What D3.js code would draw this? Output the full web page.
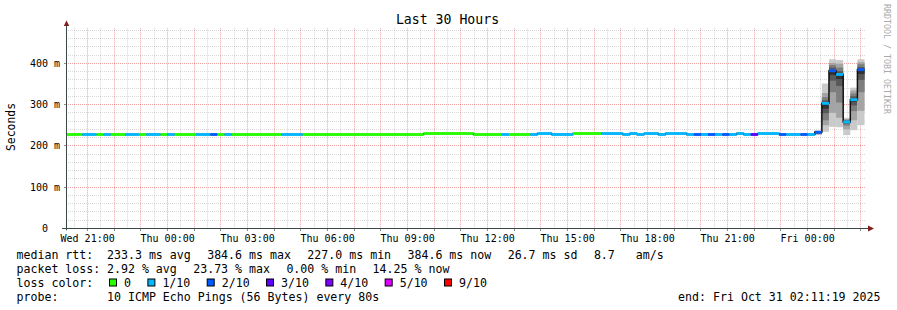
<!DOCTYPE html>
<html>
<head>
<meta charset="utf-8">
<script src="https://cdn.jsdelivr.net/npm/d3@7"></script>
<style>
body { margin: 0; background: #fff; }
text { font-family: "DejaVu Sans Mono", monospace; white-space: pre; }
</style>
</head>
<body>
<div id="chart"></div>
<script>
// runs of the median rtt: start time, median (ms), lost pings out of 10
const runStart = [
  "2025-10-29 20:00", "2025-10-29 20:48", "2025-10-29 21:20", "2025-10-29 21:36", "2025-10-29 21:52",
  "2025-10-29 22:24", "2025-10-29 22:56", "2025-10-29 23:12", "2025-10-29 23:44",
  "2025-10-30 00:00", "2025-10-30 00:16", "2025-10-30 01:04", "2025-10-30 01:36", "2025-10-30 01:52",
  "2025-10-30 02:08", "2025-10-30 02:24", "2025-10-30 04:16", "2025-10-30 05:04", "2025-10-30 09:36",
  "2025-10-30 11:28", "2025-10-30 12:32", "2025-10-30 12:48", "2025-10-30 13:36", "2025-10-30 13:52",
  "2025-10-30 14:24", "2025-10-30 15:12", "2025-10-30 16:16", "2025-10-30 17:04", "2025-10-30 17:20",
  "2025-10-30 17:36", "2025-10-30 17:52", "2025-10-30 18:24", "2025-10-30 18:40", "2025-10-30 19:28",
  "2025-10-30 19:44", "2025-10-30 20:00", "2025-10-30 20:16", "2025-10-30 20:32", "2025-10-30 20:48",
  "2025-10-30 21:04", "2025-10-30 21:20", "2025-10-30 21:36", "2025-10-30 21:52", "2025-10-30 22:08",
  "2025-10-30 22:56", "2025-10-30 23:12", "2025-10-30 23:44",
  "2025-10-31 00:00", "2025-10-31 00:16", "2025-10-31 00:32", "2025-10-31 00:48", "2025-10-31 01:04",
  "2025-10-31 01:20", "2025-10-31 01:36", "2025-10-31 01:52"
];
const runMedian = [
  227.5, 227.5, 227.5, 227.5, 227.5,
  227.5, 227.5, 227.5, 227.5,
  227.5, 227.5, 227.5, 227.5, 227.5,
  227.5, 227.5, 227.5, 227.5, 229.8,
  227.5, 227.5, 227.5, 227.5, 229.8,
  227.5, 229.8, 229.8, 227.5, 229.8,
  227.5, 229.8, 227.5, 229.8, 227.5,
  227.5, 227.5, 227.5, 227.5, 227.5,
  227.5, 229.8, 227.5, 227.5, 229.8,
  227.5, 227.5, 227.5,
  227.5, 233, 303, 382, 373,
  258, 312, 384.6
];
const runLoss = [
  0, 1, 0, 1, 0,
  1, 0, 1, 0,
  1, 0, 1, 2, 0,
  1, 0, 1, 0, 0,
  0, 1, 0, 1, 1,
  1, 0, 1, 1, 1,
  1, 1, 1, 1, 1,
  2, 1, 2, 1, 2,
  1, 1, 1, 3, 1,
  2, 1, 2,
  1, 2, 1, 2, 1,
  1, 1, 2
];
const dataEnd = "2025-10-31 02:08";

// smoke: the 10 ping times of the samples that spread out
const smokeStart = [
  "2025-10-31 00:16", "2025-10-31 00:32", "2025-10-31 00:48", "2025-10-31 01:04",
  "2025-10-31 01:20", "2025-10-31 01:36", "2025-10-31 01:52"
];
const smokePings = [
  [226, 228, 229, 230, 231, 233, 234, 235, 236, 237],
  [234, 250, 262, 279, 290, 301, 310, 318, 328, 351],
  [246, 280, 330, 358, 372, 382, 390, 396, 401, 410],
  [245, 268, 305, 345, 362, 373, 381, 390, 399, 408],
  [226, 240, 249, 254, 256, 259, 261, 263, 265, 268],
  [238, 262, 284, 298, 307, 313, 320, 327, 334, 341],
  [250, 285, 330, 360, 374, 384, 391, 398, 403, 410]
];
const sampleMinutes = 16;

const lossCount = [0, 1, 2, 3, 4, 5, 9];
const lossColor = ["#26ff00", "#00b8ff", "#0059ff", "#5e00ff", "#7e00ff", "#dd00ff", "#ff0000"];
const lossLabel = ["0", "1/10", "2/10", "3/10", "4/10", "5/10", "9/10"];

const yTicks = [0, 100, 200, 300, 400];
const yTickLabels = ["0  ", "100 m", "200 m", "300 m", "400 m"];
const yMax = 485;

const medianStats = ["233.3 ms avg", "384.6 ms max", "227.0 ms min", "384.6 ms now", "26.7 ms sd", "8.7   am/s"];
const lossStats = ["2.92 % avg", "23.73 % max", "0.00 % min", "14.25 % now"];
const probeText = "10 ICMP Echo Pings (56 Bytes) every 80s";
const endText = "end: Fri Oct 31 02:11:19 2025";

const viewStart = new Date(2025, 9, 29, 20, 11, 19);
const viewEnd = new Date(2025, 9, 31, 2, 11, 19);

// ---- layout
const W = 897, H = 310;
const pL = 66, pR = 866, pT = 28.3, pB = 228.3;
const parse = d3.timeParse("%Y-%m-%d %H:%M");

const svg = d3.select("#chart").append("svg")
  .attr("width", W).attr("height", H)
  .style("display", "block");

const x = d3.scaleTime().domain([viewStart, viewEnd]).range([pL, pR]);
const y = d3.scaleLinear().domain([0, yMax]).range([pB, pT]);

svg.append("clipPath").attr("id", "plot")
  .append("rect").attr("x", pL).attr("y", pT).attr("width", pR - pL).attr("height", pB - pT);

const crisp = v => Math.floor(v) + 0.5;

// grid
const grid = svg.append("g").attr("stroke-dasharray", "1,1").attr("stroke-width", 1);
const minorY = d3.range(20, yMax, 20).filter(v => v % 100 !== 0);
grid.selectAll(".gy").data(minorY).join("line")
  .attr("x1", pL).attr("x2", pR)
  .attr("y1", d => crisp(y(d))).attr("y2", d => crisp(y(d)))
  .attr("stroke", "rgba(143,143,143,0.35)");
const halfHours = d3.timeMinute.every(30).range(viewStart, viewEnd).filter(d => d.getMinutes() === 30);
grid.selectAll(".gx").data(halfHours).join("line")
  .attr("x1", d => crisp(x(d))).attr("x2", d => crisp(x(d)))
  .attr("y1", pT).attr("y2", pB)
  .attr("stroke", "rgba(143,143,143,0.35)");
grid.selectAll(".my").data(yTicks.filter(v => v > 0)).join("line")
  .attr("x1", pL).attr("x2", pR)
  .attr("y1", d => crisp(y(d))).attr("y2", d => crisp(y(d)))
  .attr("stroke", "rgba(222,48,48,0.45)");
const hours = d3.timeHour.range(viewStart, viewEnd);
grid.selectAll(".mx").data(hours).join("line")
  .attr("x1", d => crisp(x(d))).attr("x2", d => crisp(x(d)))
  .attr("y1", pT).attr("y2", pB)
  .attr("stroke", "rgba(222,48,48,0.45)");

// smoke
const plot = svg.append("g").attr("clip-path", "url(#plot)");
const smokeGrey = i => {
  const c = Math.floor(190 / 5 * (5 - (i + 1))) + 50;
  return d3.rgb(c, c, c).formatHex();
};
smokeStart.forEach((s, k) => {
  const t0 = parse(s);
  const t1 = d3.timeMinute.offset(t0, sampleMinutes);
  const p = smokePings[k].slice().sort((a, b) => a - b);
  for (let i = 0; i < 5; i++) {
    plot.append("rect")
      .attr("x", x(t0)).attr("width", x(t1) - x(t0))
      .attr("y", y(p[9 - i])).attr("height", y(p[i]) - y(p[9 - i]))
      .attr("fill", smokeGrey(i));
  }
});

// median line (black step) and loss coloured band
const runs = runStart.map((s, i) => ({
  t0: parse(s),
  t1: parse(i + 1 < runStart.length ? runStart[i + 1] : dataEnd),
  med: runMedian[i],
  loss: runLoss[i]
}));
const stepPts = runs.map(r => [r.t0, r.med]).concat([[runs[runs.length - 1].t1, runs[runs.length - 1].med]]);
plot.append("path")
  .attr("d", d3.line().x(d => x(d[0])).y(d => y(d[1])).curve(d3.curveStepAfter)(stepPts))
  .attr("fill", "none").attr("stroke", "#111").attr("stroke-width", 1.5);
plot.selectAll(".band").data(runs).join("rect")
  .attr("x", d => x(d.t0)).attr("width", d => x(d.t1) - x(d.t0))
  .attr("y", d => y(d.med) - 1.4).attr("height", 2.8)
  .attr("fill", d => lossColor[lossCount.indexOf(d.loss)]);

// axes
const axisCol = "#3a4a44", arrowCol = "#7f1f1f";
svg.append("line").attr("x1", 66.5).attr("x2", 66.5).attr("y1", pB + 2).attr("y2", 23)
  .attr("stroke", axisCol);
svg.append("line").attr("x1", 62).attr("x2", 869).attr("y1", 228.5).attr("y2", 228.5)
  .attr("stroke", axisCol);
svg.append("path").attr("d", "M63.8,26L69.3,26L66.5,20.5Z").attr("fill", arrowCol);
svg.append("path").attr("d", "M868,225.5L868,231.5L874,228.5Z").attr("fill", arrowCol);

// small axis ticks
svg.selectAll(".yt").data(yTicks.filter(v => v > 0)).join("line")
  .attr("x1", 64).attr("x2", 66)
  .attr("y1", d => crisp(y(d))).attr("y2", d => crisp(y(d)))
  .attr("stroke", axisCol).attr("stroke-opacity", 0.6);
svg.selectAll(".xt").data(hours).join("line")
  .attr("x1", d => crisp(x(d))).attr("x2", d => crisp(x(d)))
  .attr("y1", 229).attr("y2", 231)
  .attr("stroke", axisCol).attr("stroke-opacity", 0.6);

// tick labels
svg.selectAll(".yl").data(yTicks).join("text")
  .attr("x", 60).attr("y", d => crisp(y(d)) + 3.5)
  .attr("text-anchor", "end").attr("font-size", 10)
  .text((d, i) => yTickLabels[i]);
const fmt = d3.timeFormat("%a %H:%M");
svg.selectAll(".xl").data(d3.timeHour.every(3).range(viewStart, viewEnd)).join("text")
  .attr("x", d => x(d)).attr("y", 241.5)
  .attr("text-anchor", "middle").attr("font-size", 10)
  .text(d => fmt(d));

// titles
svg.append("text").attr("x", 447.5).attr("y", 24).attr("text-anchor", "middle")
  .attr("font-size", 13.2).text("Last 30 Hours");
svg.append("text").attr("transform", "translate(15,127) rotate(-90)")
  .attr("text-anchor", "middle").attr("font-size", 11.4).text("Seconds");
svg.append("text").attr("transform", "translate(884,4) rotate(90)")
  .attr("font-size", 8.3).attr("fill", "#aaaaaa").text("RRDTOOL / TOBI OETIKER");

// legend
const lf = 11.6, gap = 16.4, col0 = 16.5, col1 = 107;
const rowY = i => 258.5 + 14 * i;
const leg = svg.append("g").attr("font-size", lf);

function seqRow(items, row) {
  let cx = col1;
  items.forEach(s => {
    const t = leg.append("text").attr("x", cx).attr("y", rowY(row)).text(s);
    cx += t.node().getComputedTextLength() + gap;
  });
}
leg.append("text").attr("x", col0).attr("y", rowY(0)).text("median rtt:");
seqRow(medianStats, 0);
leg.append("text").attr("x", col0).attr("y", rowY(1)).text("packet loss:");
seqRow(lossStats, 1);
leg.append("text").attr("x", col0).attr("y", rowY(2)).text("loss color:");
let bx = 109;
lossLabel.forEach((lab, i) => {
  leg.append("rect").attr("x", bx + 0.5).attr("y", rowY(2) - 7.5).attr("width", 7).attr("height", 7)
    .attr("fill", lossColor[i]).attr("stroke", "#000").attr("stroke-width", 1);
  const t = leg.append("text").attr("x", bx + 15).attr("y", rowY(2)).text(lab);
  bx = bx + 15 + t.node().getComputedTextLength() + gap;
});
leg.append("text").attr("x", col0).attr("y", rowY(3)).text("probe:");
leg.append("text").attr("x", col1).attr("y", rowY(3)).text(probeText);
leg.append("text").attr("x", 880.5).attr("y", rowY(3)).attr("text-anchor", "end").text(endText);
</script>
</body>
</html>
